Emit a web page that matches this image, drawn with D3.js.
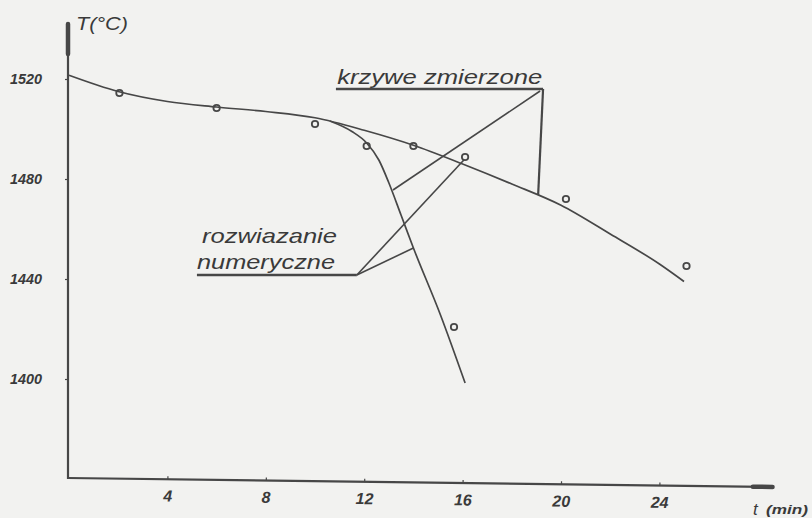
<!DOCTYPE html>
<html>
<head>
<meta charset="utf-8">
<script src="https://cdn.jsdelivr.net/npm/d3@7"></script>
<style>
  html, body { margin: 0; padding: 0; background: #f2f2f0; }
  svg { display: block; }
  text { font-family: "Liberation Sans", Arial, sans-serif; fill: #3a3a3a; }
</style>
</head>
<body>
<svg id="chart" width="812" height="518"></svg>
<script>
// ---- data ----
// measured curve, slow cooling branch: time (min) and temperature (°C)
const slowTime = [0, 2, 4, 6, 8, 10, 12, 14, 16, 18, 20, 22, 24, 25];
const slowTemp = [1521.5, 1515, 1511, 1508.8, 1507, 1504.5, 1499.5, 1493.5, 1486, 1478, 1469.5, 1458, 1446, 1439];
// measured curve, fast cooling branch
const fastTime = [10.6, 11.5, 12.1, 12.6, 13.0, 13.5, 14, 15.1, 16.1];
const fastTemp = [1503.2, 1499, 1494.4, 1487.5, 1478.5, 1465.5, 1452.4, 1425.6, 1398.4];
// numerical solution points
const numTime = [2.05, 6.0, 10.0, 12.1, 14.0, 16.1, 20.2, 25.1, 15.65];
const numTemp = [1514.4, 1508.4, 1502, 1493.2, 1493.2, 1488.8, 1472, 1445.2, 1420.8];
// ticks
const xTicks = [4, 8, 12, 16, 20, 24];
const yTicks = [1400, 1440, 1480, 1520];
// labels
const yTitle = "T(°C)";
const xTitle = "t";
const xUnit = "(min)";
const labelMeasured = "krzywe zmierzone";
const labelNumeric1 = "rozwiazanie";
const labelNumeric2 = "numeryczne";

// ---- drawing ----
const svg = d3.select("#chart");
svg.append("rect").attr("width", 812).attr("height", 518).attr("fill", "#f2f2f0");

const x = d3.scaleLinear().domain([0, 28.6]).range([69, 772.6]);
const y = d3.scaleLinear().domain([1360, 1542]).range([479, 24]);
const ink = "#474747";

// y axis
const yAxis = d3.axisLeft(y).tickValues(yTicks).tickFormat(d3.format("d"))
  .tickSizeInner(3).tickSizeOuter(0).tickPadding(23);
const gy = svg.append("g").attr("transform", "translate(68,0)").call(yAxis);
gy.select(".domain").remove();
gy.selectAll(".tick line").attr("stroke", ink).attr("stroke-width", 1.2);
gy.selectAll(".tick text")
  .style("font-size", "15px").style("font-weight", "bold").style("font-style", "italic")
  .attr("fill", "#3a3a3a").attr("textLength", 32).attr("lengthAdjust", "spacingAndGlyphs");
gy.append("line").attr("x1", 0).attr("x2", 0).attr("y1", y(1542)).attr("y2", y(1360))
  .attr("stroke", ink).attr("stroke-width", 2.2);
gy.append("line").attr("x1", 0).attr("x2", 0).attr("y1", y(1542)).attr("y2", y(1530))
  .attr("stroke", ink).attr("stroke-width", 4.5).attr("stroke-linecap", "round");

// x axis (hand-drawn: slightly tilted)
const xAxis = d3.axisBottom(x).tickValues(xTicks).tickFormat(d3.format("d"))
  .tickSizeInner(-3).tickSizeOuter(0).tickPadding(11);
const gx = svg.append("g").attr("transform", "translate(0,478) rotate(0.73,68,0)").call(xAxis);
gx.select(".domain").remove();
gx.selectAll(".tick line").attr("stroke", ink).attr("stroke-width", 1.2);
gx.selectAll(".tick text")
  .style("font-size", "16px").style("font-weight", "bold").style("font-style", "italic")
  .attr("fill", "#3a3a3a");
gx.append("line").attr("x1", 68).attr("x2", x(28.6)).attr("y1", 0).attr("y2", 0)
  .attr("stroke", ink).attr("stroke-width", 2.2);
gx.append("line").attr("x1", x(27.8)).attr("x2", x(28.6)).attr("y1", 0).attr("y2", 0)
  .attr("stroke", ink).attr("stroke-width", 4.5).attr("stroke-linecap", "round");

// axis titles
svg.append("text").attr("x", 76).attr("y", 30).text(yTitle)
  .style("font-size", "18px").style("font-style", "italic")
  .attr("textLength", 52).attr("lengthAdjust", "spacingAndGlyphs");
svg.append("text").attr("x", 753).attr("y", 515).text(xTitle)
  .style("font-size", "17px").style("font-style", "italic");
svg.append("text").attr("x", 766).attr("y", 514).text(xUnit)
  .style("font-size", "13px").style("font-style", "italic").style("font-weight", "bold")
  .attr("textLength", 42).attr("lengthAdjust", "spacingAndGlyphs");

// measured curves
const line = d3.line().x(d => x(d[0])).y(d => y(d[1])).curve(d3.curveMonotoneX);
svg.append("path").datum(d3.zip(slowTime, slowTemp)).attr("d", line)
  .attr("fill", "none").attr("stroke", ink).attr("stroke-width", 1.7);
svg.append("path").datum(d3.zip(fastTime, fastTemp)).attr("d", line)
  .attr("fill", "none").attr("stroke", ink).attr("stroke-width", 1.7);

// numerical points
svg.append("g").selectAll("circle").data(d3.zip(numTime, numTemp)).join("circle")
  .attr("cx", d => x(d[0])).attr("cy", d => y(d[1])).attr("r", 3.2)
  .attr("fill", "none").attr("stroke", ink).attr("stroke-width", 1.8);

// annotation: measured curves
const ann = svg.append("g").attr("stroke", ink).attr("stroke-width", 1.6).attr("fill", "none");
ann.append("line").attr("x1", x(10.85)).attr("x2", x(19.27)).attr("y1", y(1516)).attr("y2", y(1516))
  .attr("stroke-width", 2.4);
ann.append("line").attr("x1", x(19.27)).attr("x2", x(19.07)).attr("y1", y(1516)).attr("y2", y(1473.6))
  .attr("stroke-width", 2.2);
ann.append("line").attr("x1", x(19.15)).attr("x2", x(13.17)).attr("y1", y(1515.2)).attr("y2", y(1475.6));
svg.append("text").attr("x", x(10.9)).attr("y", 84).text(labelMeasured)
  .style("font-size", "21px").style("font-style", "italic")
  .attr("textLength", 205).attr("lengthAdjust", "spacingAndGlyphs");

// annotation: numerical solution
ann.append("line").attr("x1", x(5.2)).attr("x2", x(11.7)).attr("y1", y(1441.6)).attr("y2", y(1441.6))
  .attr("stroke-width", 2.6);
ann.append("line").attr("x1", x(11.7)).attr("x2", x(14.0)).attr("y1", y(1441.6)).attr("y2", y(1452.4));
ann.append("line").attr("x1", x(11.7)).attr("x2", x(16.05)).attr("y1", y(1441.6)).attr("y2", y(1487.6));
svg.append("text").attr("x", 202).attr("y", 243).text(labelNumeric1)
  .style("font-size", "21px").style("font-style", "italic")
  .attr("textLength", 135).attr("lengthAdjust", "spacingAndGlyphs");
svg.append("text").attr("x", 197).attr("y", 269).text(labelNumeric2)
  .style("font-size", "21px").style("font-style", "italic")
  .attr("textLength", 138).attr("lengthAdjust", "spacingAndGlyphs");
</script>
</body>
</html>
